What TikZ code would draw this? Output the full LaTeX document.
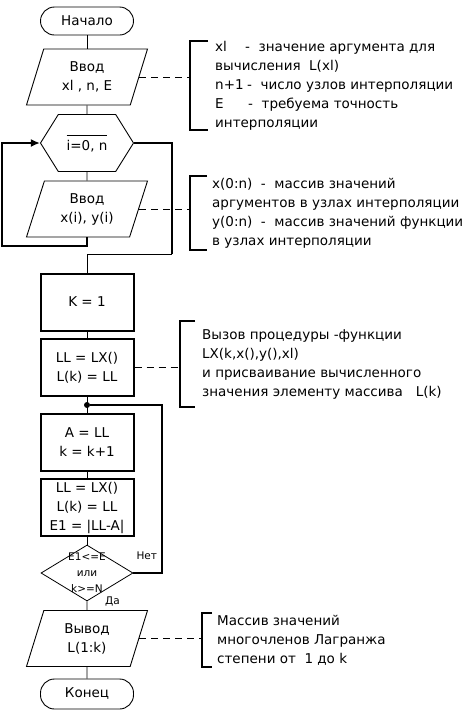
\documentclass[tikz,border=0pt]{standalone}
\usepackage{fontspec}
\setmainfont{DejaVu Sans}
\usepackage{tikz}
\usetikzlibrary{positioning, arrows.meta, shapes.geometric, shapes.symbols}

\begin{document}
\begin{tikzpicture}[
    font=\fontsize{13.5}{19}\selectfont,
    x=1pt, y=-1pt,
    term/.style={
        draw=black, rounded corners=14pt, line width=0.9pt,
        minimum width=93pt, minimum height=28pt, inner sep=1pt,
    },
    io/.style={
        draw=black, trapezium, trapezium left angle=62, trapezium right angle=118,
        trapezium stretches body, line width=0.9pt,
        minimum width=121pt, minimum height=56pt, align=center, inner sep=1pt,
    },
    proc/.style={
        draw=black, line width=2pt,
        minimum width=93pt, minimum height=57pt, align=center, inner sep=1pt,
    },
    cycle/.style={
        draw=black, signal, signal to=west and east, signal pointer angle=116,
        line width=0.9pt, minimum width=93pt, minimum height=57pt, inner sep=1pt,
    },
    cond/.style={
        draw=black, diamond, line width=0.8pt,
        minimum width=92pt, minimum height=56pt, inner sep=0pt,
    },
    note/.style={
        align=left, anchor=west, inner xsep=22pt, inner ysep=0pt,
    },
    lbl/.style={font=\fontsize{10.5}{12}\selectfont, inner sep=1pt},
    dot/.style={circle, fill=black, inner sep=0pt, minimum size=6pt},
    line/.style={draw=black, line width=0.9pt},
    loopline/.style={draw=black, line width=2pt},
    fbline/.style={draw=black, line width=1.3pt},
    comment/.style={draw=black, line width=0.8pt, dash pattern=on 7pt off 5pt},
    bracket/.style={draw=black, line width=1.8pt},
]
\useasboundingbox (0,0) rectangle (476,713);

% ── Main column ──────────────────────────────────────────────────────
\node[term] (start) at (87,21)  {Начало};
\node[io]   (in1)   at (87,77)  {Ввод\\xl , n, E};
\node[cycle] (hex)  at (87,143) {$\overline{\rule{0pt}{14pt}\mbox{i=0, n}}$};
\node[io]   (in2)   at (87,209) {Ввод\\x(i), y(i)};
\node[proc] (k1)    at (87,302) {K = 1};
\node[proc] (ll)    at (87,367.5) {LL = LX()\\L(k) = LL};
\node[dot]  (jn)    at (87,405) {};
\node[proc] (acc)   at (87,442.5) {A = LL\\k = k+1};
\node[proc] (err)   at (87,507.5) {LL = LX()\\L(k) = LL\\E1 = |LL-A|};
\node[cond, label={[lbl, align=center, font=\fontsize{10.5}{16}\selectfont]center:E1<=E\\или\\k>=N}]
    (dia) at (87,573) {};
\node[io]   (out)   at (87,638.5) {Вывод\\L(1:k)};
\node[term, minimum height=30pt] (stop) at (87,694) {Конец};

\node[lbl, above right=12pt and 2pt of dia.east] (no) {Нет};
\node[lbl, right=17pt of dia.south] (yes) {Да};

% ── Comments ─────────────────────────────────────────────────────────
\node[note, inner xsep=25pt] (n1) at (190,85.5)
    {\makebox[30pt][l]{xl}-\ \ значение аргумента для\\
     вычисления \ L(xl)\\
     \makebox[32pt][l]{n+1}-\ \ число узлов интерполяции\\
     \makebox[33pt][l]{E}-\ \ требуема точность\\
     интерполяции};
\node[note, minimum height=74pt] (n2) at (190,213)
    {x(0:n) \ -\ \ массив значений\\
     аргументов в узлах интерполяции\\
     y(0:n) \ -\ \ массив значений функции\\
     в узлах интерполяции};
\node[note, minimum height=86pt] (n3) at (180,364)
    {Вызов процедуры -функции\\
     LX(k,x(),y(),xl)\\
     и присваивание вычисленного\\
     значения элементу массива \ \ L(k)};
\node[note, inner xsep=15pt, minimum height=54pt] (n4) at (202,640)
    {Массив значений\\
     многочленов Лагранжа\\
     степени от \ 1 до k};

\draw[bracket] ([xshift=18pt]n1.north west) -| (n1.west) |- ([xshift=18pt]n1.south west);
\draw[bracket] ([xshift=17pt]n2.north west) -| (n2.west) |- ([xshift=17pt]n2.south west);
\draw[bracket] ([xshift=15pt]n3.north west) -| (n3.west) |- ([xshift=15pt]n3.south west);
\draw[bracket] ([xshift=10pt]n4.north west) -| (n4.west) |- ([xshift=10pt]n4.south west);

\draw[comment] (in1.east) -- (in1.east -| n1.west);
\draw[comment] (in2.east) -- (in2.east -| n2.west);
\draw[comment] (ll.east)  -- (ll.east -| n3.west);
\draw[comment] (out.east) -- (out.east -| n4.west);

% ── Edges ────────────────────────────────────────────────────────────
\coordinate (lpb)  at (2,246);
\coordinate (exit) at (172,254);
\coordinate (fb)   at (162,405);

\draw[line] (start) -- (in1);
\draw[line] (in1) -- (hex);
\draw[line] (hex) -- (in2);
\draw[line] (k1) -- (ll);
\draw[line] (ll) -- (acc);
\draw[line] (acc) -- (err);
\draw[line] (err) -- (dia);
\draw[line] (dia) -- (out);
\draw[line] (out) -- (stop);

% loop body back to the cycle head
\draw[loopline, -{Latex[length=9pt, width=8pt]}] (in2.south) |- (lpb) |- (hex.west);

% loop exit
\draw[loopline] (hex.east) -| (exit);
\draw[line] (exit) -| (k1.north);

% "Нет" branch back to the junction
\draw[fbline] (dia.east) -| (fb) -- (jn);

\end{tikzpicture}
\end{document}
